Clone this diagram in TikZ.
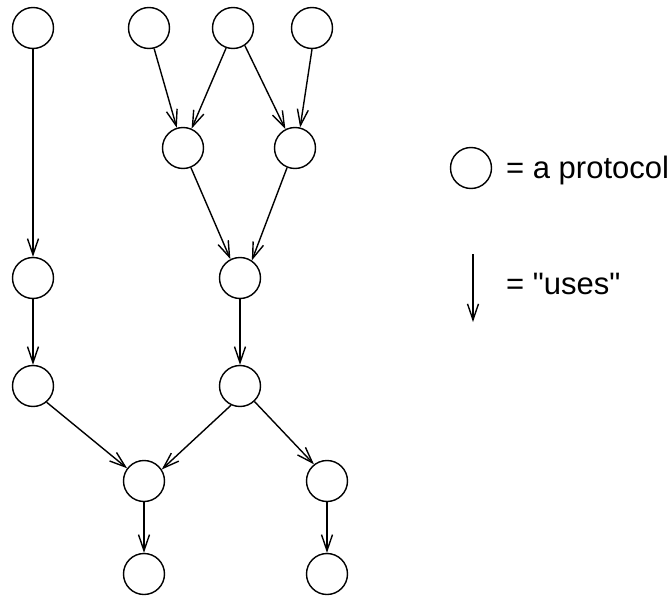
\documentclass[tikz,border=0pt]{standalone}
\usepackage{fontspec}
\setmainfont{Liberation Sans}[Ligatures=TeXOff]
\usetikzlibrary{arrows.meta}
\tikzset{
  proto/.style={draw, circle, minimum size=41pt, inner sep=0pt, line width=1.4pt},
  uses/.style={line width=1.4pt, -{Straight Barb[length=16pt,width=11pt,line width=1.4pt]}},
  legtext/.style={anchor=base west, inner sep=0pt, font=\fontsize{31}{37}\selectfont}
}
\begin{document}
\begin{tikzpicture}[x=1pt,y=-1pt]
\useasboundingbox (0,0) rectangle (670,597);
\node[proto] (A) at (33,28) {};
\node[proto] (B) at (149,28) {};
\node[proto] (C) at (233,28) {};
\node[proto] (D) at (312,28) {};
\node[proto] (E) at (183,148) {};
\node[proto] (F) at (295,148) {};
\node[proto] (G) at (33,278) {};
\node[proto] (H) at (240,278) {};
\node[proto] (I) at (33,386) {};
\node[proto] (J) at (240,386) {};
\node[proto] (K) at (144,481) {};
\node[proto] (L) at (327,481) {};
\node[proto] (M) at (144,574) {};
\node[proto] (N) at (327,574) {};
\draw[uses] (A.south) -- (G.north);
\draw[uses] (B.-76) -- (E.107);
\draw[uses] (C.-109) -- (E.66);
\draw[uses] (C.-56) -- (F.117);
\draw[uses] (D.-90) -- (F.76);
\draw[uses] (E.-68) -- (H.117);
\draw[uses] (F.-112) -- (H.56);
\draw[uses] (G.south) -- (I.north);
\draw[uses] (H.south) -- (J.north);
\draw[uses] (I.-50) -- (K.143);
\draw[uses] (J.-115) -- (K.33);
\draw[uses] (J.-47) -- (L.128);
\draw[uses] (K.south) -- (M.north);
\draw[uses] (L.south) -- (N.north);
% legend
\node[proto] (leg) at (471,168) {};
\node[legtext] (legt) at (506,178) {= a protocol};
\coordinate (ua) at (473,254);
\coordinate (ub) at (473,322);
\draw[uses] (ua) -- (ub);
\node[legtext] (uset) at (506,294) {= "uses"};
\end{tikzpicture}
\end{document}
